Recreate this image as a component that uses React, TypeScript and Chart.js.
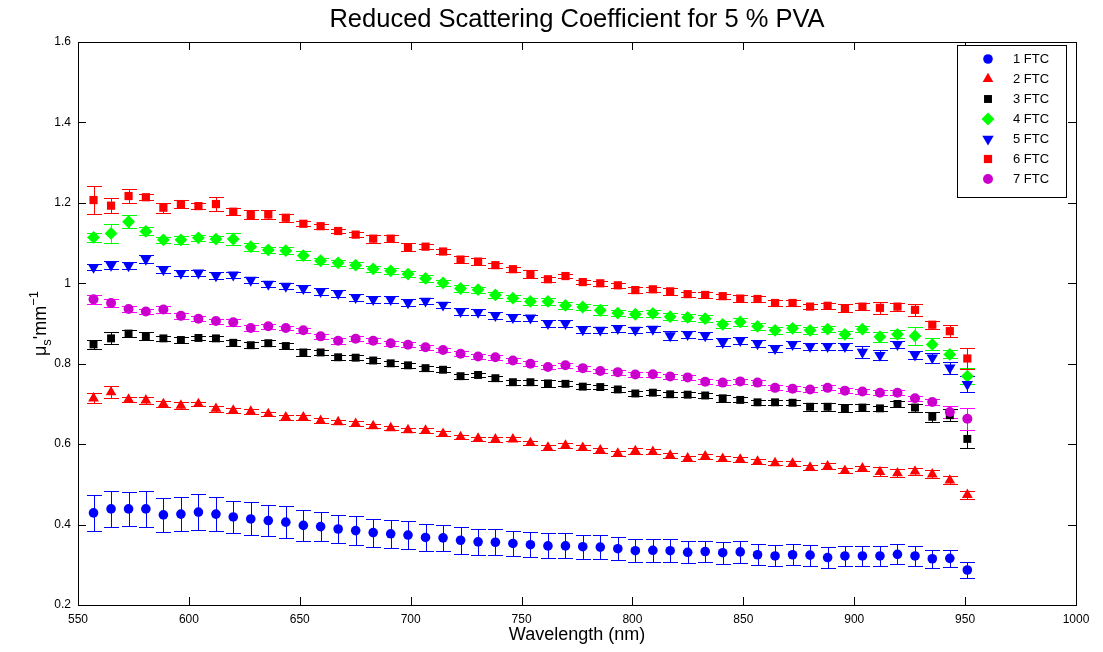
import React, { useEffect, useRef } from "react";
import { Chart, registerables } from "chart.js";
import { drawPoint } from "chart.js/helpers";

Chart.register(...registerables);

const title = "Reduced Scattering Coefficient for 5 % PVA";
const xLabel = "Wavelength (nm)";
const xTicks = [550, 600, 650, 700, 750, 800, 850, 900, 950, 1000];
const yTicks = [0.2, 0.4, 0.6, 0.8, 1, 1.2, 1.4, 1.6];

const wavelengths = [
  557.0, 564.9, 572.8, 580.6, 588.5, 596.4, 604.3, 612.2, 620.0, 627.9,
  635.8, 643.7, 651.6, 659.4, 667.3, 675.2, 683.1, 691.0, 698.8, 706.7,
  714.6, 722.5, 730.4, 738.2, 746.1, 754.0, 761.9, 769.8, 777.6, 785.5,
  793.4, 801.3, 809.2, 817.0, 824.9, 832.8, 840.7, 848.6, 856.4, 864.3,
  872.2, 880.1, 888.0, 895.8, 903.7, 911.6, 919.5, 927.4, 935.2, 943.1, 951.0,
];

const seriesLabels = ["1 FTC", "2 FTC", "3 FTC", "4 FTC", "5 FTC", "6 FTC", "7 FTC"];

const ftc1 = [
  0.429, 0.439, 0.439, 0.439, 0.424, 0.426, 0.431, 0.426, 0.419, 0.414,
  0.410, 0.406, 0.398, 0.395, 0.389, 0.385, 0.380, 0.377, 0.374, 0.368,
  0.367, 0.361, 0.357, 0.356, 0.353, 0.350, 0.347, 0.347, 0.345, 0.344,
  0.340, 0.335, 0.336, 0.335, 0.331, 0.333, 0.330, 0.332, 0.325, 0.322,
  0.325, 0.324, 0.318, 0.322, 0.322, 0.322, 0.326, 0.322, 0.315, 0.316, 0.287,
];
const err1 = [
  0.045, 0.044, 0.042, 0.044, 0.042, 0.043, 0.044, 0.043, 0.040, 0.041,
  0.038, 0.039, 0.038, 0.037, 0.036, 0.036, 0.035, 0.035, 0.034, 0.034,
  0.033, 0.033, 0.032, 0.032, 0.031, 0.031, 0.031, 0.031, 0.030, 0.029,
  0.029, 0.028, 0.028, 0.028, 0.027, 0.027, 0.027, 0.027, 0.026, 0.026,
  0.026, 0.026, 0.025, 0.025, 0.025, 0.025, 0.025, 0.024, 0.023, 0.022, 0.019,
];

const ftc2 = [
  0.714, 0.729, 0.711, 0.709, 0.700, 0.696, 0.700, 0.688, 0.684, 0.681,
  0.675, 0.667, 0.667, 0.658, 0.655, 0.651, 0.645, 0.640, 0.635, 0.634,
  0.626, 0.618, 0.614, 0.612, 0.612, 0.603, 0.592, 0.597, 0.591, 0.585,
  0.577, 0.583, 0.581, 0.572, 0.565, 0.570, 0.564, 0.562, 0.557, 0.553,
  0.552, 0.542, 0.545, 0.534, 0.540, 0.531, 0.528, 0.532, 0.525, 0.510, 0.474,
];
const err2 = [
  0.012, 0.015, 0.007, 0.008, 0.007, 0.008, 0.006, 0.007, 0.007, 0.006,
  0.006, 0.006, 0.006, 0.006, 0.006, 0.006, 0.006, 0.006, 0.005, 0.006,
  0.006, 0.005, 0.005, 0.006, 0.005, 0.006, 0.006, 0.006, 0.006, 0.006,
  0.006, 0.007, 0.006, 0.006, 0.006, 0.006, 0.006, 0.006, 0.006, 0.006,
  0.007, 0.006, 0.008, 0.007, 0.006, 0.011, 0.009, 0.008, 0.010, 0.010, 0.010,
];

const ftc3 = [
  0.848, 0.863, 0.875, 0.868, 0.863, 0.859, 0.864, 0.863, 0.852, 0.846,
  0.851, 0.844, 0.828, 0.828, 0.816, 0.815, 0.808, 0.801, 0.796, 0.789,
  0.785, 0.769, 0.772, 0.764, 0.754, 0.754, 0.751, 0.750, 0.743, 0.742,
  0.736, 0.726, 0.728, 0.724, 0.723, 0.721, 0.714, 0.710, 0.704, 0.704,
  0.703, 0.693, 0.693, 0.689, 0.691, 0.689, 0.700, 0.691, 0.668, 0.672, 0.613,
];
const err3 = [
  0.012, 0.015, 0.008, 0.010, 0.007, 0.007, 0.006, 0.007, 0.008, 0.007,
  0.008, 0.007, 0.008, 0.006, 0.006, 0.006, 0.006, 0.006, 0.006, 0.006,
  0.006, 0.006, 0.006, 0.006, 0.006, 0.006, 0.008, 0.006, 0.006, 0.006,
  0.006, 0.006, 0.006, 0.006, 0.006, 0.006, 0.008, 0.006, 0.006, 0.006,
  0.006, 0.010, 0.010, 0.010, 0.008, 0.006, 0.008, 0.010, 0.012, 0.015, 0.022,
];

const ftc4 = [
  1.114, 1.124, 1.153, 1.129, 1.108, 1.108, 1.113, 1.110, 1.110, 1.091,
  1.083, 1.081, 1.069, 1.056, 1.051, 1.045, 1.036, 1.031, 1.023, 1.012,
  1.001, 0.987, 0.984, 0.971, 0.963, 0.955, 0.955, 0.945, 0.941, 0.933,
  0.926, 0.923, 0.925, 0.917, 0.915, 0.912, 0.898, 0.904, 0.893, 0.883,
  0.888, 0.883, 0.886, 0.873, 0.886, 0.867, 0.873, 0.869, 0.848, 0.823, 0.769,
];
const err4 = [
  0.011, 0.024, 0.016, 0.010, 0.008, 0.010, 0.008, 0.008, 0.015, 0.010,
  0.008, 0.008, 0.012, 0.008, 0.008, 0.008, 0.008, 0.008, 0.008, 0.008,
  0.008, 0.008, 0.008, 0.008, 0.007, 0.008, 0.008, 0.008, 0.008, 0.012,
  0.008, 0.008, 0.008, 0.008, 0.008, 0.008, 0.008, 0.010, 0.008, 0.008,
  0.008, 0.008, 0.008, 0.008, 0.008, 0.012, 0.010, 0.023, 0.015, 0.010, 0.020,
];

const ftc5 = [
  1.040, 1.045, 1.044, 1.060, 1.034, 1.025, 1.026, 1.019, 1.021, 1.008,
  0.998, 0.993, 0.987, 0.980, 0.975, 0.965, 0.960, 0.960, 0.952, 0.956,
  0.946, 0.930, 0.928, 0.920, 0.915, 0.914, 0.900, 0.900, 0.885, 0.884,
  0.888, 0.884, 0.886, 0.870, 0.873, 0.870, 0.853, 0.858, 0.850, 0.838,
  0.848, 0.843, 0.843, 0.843, 0.829, 0.821, 0.848, 0.822, 0.815, 0.790, 0.749,
];
const err5 = [
  0.008, 0.010, 0.008, 0.010, 0.008, 0.008, 0.008, 0.008, 0.008, 0.008,
  0.008, 0.008, 0.008, 0.008, 0.008, 0.008, 0.008, 0.008, 0.008, 0.008,
  0.008, 0.008, 0.008, 0.008, 0.008, 0.008, 0.008, 0.008, 0.008, 0.008,
  0.008, 0.008, 0.008, 0.012, 0.008, 0.008, 0.010, 0.008, 0.008, 0.008,
  0.008, 0.008, 0.008, 0.008, 0.015, 0.012, 0.008, 0.010, 0.012, 0.015, 0.020,
];

const ftc6 = [
  1.207, 1.193, 1.217, 1.214, 1.188, 1.197, 1.192, 1.197, 1.178, 1.170,
  1.171, 1.163, 1.148, 1.142, 1.130, 1.121, 1.111, 1.111, 1.090, 1.091,
  1.079, 1.059, 1.054, 1.045, 1.035, 1.023, 1.010, 1.018, 1.003, 1.000,
  0.995, 0.983, 0.985, 0.980, 0.973, 0.971, 0.968, 0.962, 0.961, 0.951,
  0.951, 0.942, 0.944, 0.938, 0.942, 0.939, 0.942, 0.934, 0.897, 0.881, 0.813,
];
const err6 = [
  0.034, 0.019, 0.017, 0.008, 0.012, 0.011, 0.008, 0.017, 0.008, 0.011,
  0.012, 0.010, 0.006, 0.006, 0.006, 0.006, 0.010, 0.008, 0.010, 0.006,
  0.006, 0.008, 0.008, 0.006, 0.006, 0.010, 0.006, 0.006, 0.006, 0.006,
  0.006, 0.008, 0.006, 0.008, 0.006, 0.008, 0.006, 0.008, 0.008, 0.008,
  0.008, 0.006, 0.008, 0.010, 0.008, 0.015, 0.010, 0.015, 0.010, 0.015, 0.025,
];

const ftc7 = [
  0.960, 0.951, 0.936, 0.930, 0.935, 0.919, 0.912, 0.906, 0.903, 0.889,
  0.893, 0.889, 0.883, 0.868, 0.857, 0.862, 0.857, 0.851, 0.847, 0.841,
  0.834, 0.825, 0.818, 0.816, 0.808, 0.800, 0.792, 0.796, 0.789, 0.782,
  0.779, 0.773, 0.774, 0.768, 0.766, 0.755, 0.753, 0.756, 0.753, 0.740,
  0.738, 0.736, 0.740, 0.733, 0.731, 0.728, 0.728, 0.714, 0.705, 0.680, 0.663,
];
const err7 = [
  0.012, 0.010, 0.008, 0.006, 0.008, 0.008, 0.006, 0.006, 0.008, 0.008,
  0.006, 0.006, 0.006, 0.006, 0.008, 0.006, 0.006, 0.006, 0.006, 0.006,
  0.006, 0.006, 0.006, 0.006, 0.006, 0.006, 0.006, 0.006, 0.006, 0.006,
  0.006, 0.006, 0.006, 0.006, 0.006, 0.006, 0.006, 0.006, 0.006, 0.006,
  0.006, 0.006, 0.006, 0.006, 0.006, 0.006, 0.006, 0.006, 0.008, 0.015, 0.027,
];

const FONT = "'Liberation Sans', Arial, Helvetica, sans-serif";

export default function App() {
  const ref = useRef<HTMLCanvasElement>(null);

  useEffect(() => {
    if (!ref.current) return;
    const values = [ftc1, ftc2, ftc3, ftc4, ftc5, ftc6, ftc7];
    const errors = [err1, err2, err3, err4, err5, err6, err7];
    const styles = [
      { color: "#0000ff", errColor: "#0000ff", style: "circle", rot: 0, r: 4.8 },
      { color: "#ff0000", errColor: "#ff0000", style: "triangle", rot: 0, r: 6.2 },
      { color: "#000000", errColor: "#000000", style: "rect", rot: 0, r: 5.6 },
      { color: "#00ff00", errColor: "#00ff00", style: "rectRot", rot: 0, r: 6.4 },
      { color: "#0000ff", errColor: "#0000ff", style: "triangle", rot: 180, r: 6.6 },
      { color: "#ff0000", errColor: "#ff0000", style: "rect", rot: 0, r: 5.8 },
      { color: "#cc00cc", errColor: "#ff00ff", style: "circle", rot: 0, r: 5 },
    ];

    const datasets = values.map((v, i) => ({
      label: seriesLabels[i],
      data: wavelengths.map((w, j) => ({ x: w, y: v[j] })),
      errors: errors[i],
      errColor: styles[i].errColor,
      showLine: false,
      pointStyle: styles[i].style,
      pointRotation: styles[i].rot,
      pointRadius: styles[i].r,
      pointHoverRadius: styles[i].r,
      pointBorderWidth: 0,
      backgroundColor: styles[i].color,
      borderColor: styles[i].color,
      order: 7 - i,
    }));

    const errorBars = {
      id: "errorBars",
      beforeDatasetsDraw(chart: any) {
        const { ctx } = chart;
        const xs = chart.scales.x;
        const ys = chart.scales.y;
        const cap = 7.5;
        ctx.save();
        ctx.lineWidth = 1;
        chart.data.datasets.forEach((ds: any) => {
          ctx.strokeStyle = ds.errColor;
          ds.data.forEach((p: any, j: number) => {
            const px = Math.round(xs.getPixelForValue(p.x)) + 0.5;
            const top = Math.round(ys.getPixelForValue(p.y + ds.errors[j])) + 0.5;
            const bot = Math.round(ys.getPixelForValue(p.y - ds.errors[j])) + 0.5;
            ctx.beginPath();
            ctx.moveTo(px, top);
            ctx.lineTo(px, bot);
            ctx.moveTo(px - cap, top);
            ctx.lineTo(px + cap, top);
            ctx.moveTo(px - cap, bot);
            ctx.lineTo(px + cap, bot);
            ctx.stroke();
          });
        });
        ctx.restore();
      },
    };

    const decorations = {
      id: "decorations",
      afterDraw(chart: any) {
        const { ctx, chartArea: a } = chart;
        const xs = chart.scales.x;
        const ys = chart.scales.y;
        ctx.save();
        ctx.strokeStyle = "#000";
        ctx.lineWidth = 1;
        ctx.strokeRect(Math.round(a.left) + 0.5, Math.round(a.top) + 0.5, Math.round(a.right - a.left), Math.round(a.bottom - a.top));
        const tl = 8;
        ctx.beginPath();
        xTicks.forEach((t) => {
          const px = Math.round(xs.getPixelForValue(t)) + 0.5;
          ctx.moveTo(px, a.bottom);
          ctx.lineTo(px, a.bottom - tl);
          ctx.moveTo(px, a.top);
          ctx.lineTo(px, a.top + tl);
        });
        yTicks.forEach((t) => {
          const py = Math.round(ys.getPixelForValue(t)) + 0.5;
          ctx.moveTo(a.left, py);
          ctx.lineTo(a.left + tl, py);
          ctx.moveTo(a.right, py);
          ctx.lineTo(a.right - tl, py);
        });
        ctx.stroke();

        ctx.fillStyle = "#000";
        ctx.textAlign = "center";
        ctx.textBaseline = "middle";
        ctx.font = `25.5px ${FONT}`;
        ctx.fillText(title, (a.left + a.right) / 2, 20);

        ctx.font = `18px ${FONT}`;
        ctx.fillText(xLabel, (a.left + a.right) / 2, 635);

        ctx.save();
        ctx.translate(40, (a.top + a.bottom) / 2);
        ctx.rotate(-Math.PI / 2);
        ctx.textAlign = "left";
        ctx.textBaseline = "alphabetic";
        const big = `18px ${FONT}`;
        const small = `13px ${FONT}`;
        const parts = [
          { t: "\u03bc", f: big, dy: 0 },
          { t: "s", f: small, dy: 5 },
          { t: "'mm", f: big, dy: 0 },
          { t: "\u22121", f: small, dy: -8 },
        ];
        let total = 0;
        parts.forEach((p) => {
          ctx.font = p.f;
          total += ctx.measureText(p.t).width;
        });
        let cx = -total / 2;
        parts.forEach((p) => {
          ctx.font = p.f;
          ctx.fillText(p.t, cx, 6 + p.dy);
          cx += ctx.measureText(p.t).width;
        });
        ctx.restore();

        const lx = 957.5, ly = 45.5, lw = 109, lh = 152;
        ctx.fillStyle = "#fff";
        ctx.fillRect(lx, ly, lw, lh);
        ctx.strokeStyle = "#000";
        ctx.strokeRect(lx, ly, lw, lh);
        ctx.font = `13px ${FONT}`;
        ctx.textAlign = "left";
        ctx.textBaseline = "middle";
        chart.data.datasets.forEach((ds: any, i: number) => {
          const y = 59 + i * 20;
          ctx.fillStyle = ds.backgroundColor;
          ctx.strokeStyle = ds.backgroundColor;
          drawPoint(ctx, { pointStyle: ds.pointStyle, rotation: ds.pointRotation, radius: ds.pointRadius, borderWidth: 0 } as any, 988, y);
          ctx.fillStyle = "#000";
          ctx.fillText(ds.label, 1013, y);
        });
        ctx.restore();
      },
    };

    const chart = new Chart(ref.current, {
      type: "scatter",
      data: { datasets: datasets as any },
      options: {
        animation: false,
        responsive: false,
        events: [],
        layout: { padding: { top: 42, right: 27, left: 0, bottom: 0 } },
        plugins: { legend: { display: false }, title: { display: false }, tooltip: { enabled: false } },
        scales: {
          x: {
            type: "linear",
            min: 550,
            max: 1000,
            afterFit: (s: any) => { s.height = 47; },
            afterBuildTicks: (s: any) => { s.ticks = xTicks.map((v) => ({ value: v })); },
            ticks: {
              font: { family: FONT, size: 12 },
              color: "#000",
              padding: 7,
              maxRotation: 0,
              autoSkip: false,
              callback: (v: any) => String(Math.round(Number(v))),
            },
            grid: { display: false, drawTicks: false },
            border: { display: false },
          },
          y: {
            type: "linear",
            min: 0.2,
            max: 1.6,
            afterFit: (s: any) => { s.width = 78; },
            afterBuildTicks: (s: any) => { s.ticks = yTicks.map((v) => ({ value: v })); },
            ticks: {
              font: { family: FONT, size: 12 },
              color: "#000",
              padding: 7,
              autoSkip: false,
              callback: (v: any) => String(Math.round(Number(v) * 10) / 10),
            },
            grid: { display: false, drawTicks: false },
            border: { display: false },
          },
        },
      },
      plugins: [errorBars, decorations],
    });
    return () => chart.destroy();
  }, []);

  return (
    <div style={{ position: "fixed", left: 0, top: 0, width: 1103, height: 652, background: "#fff" }}>
      <canvas ref={ref} width={1103} height={652} style={{ display: "block", width: 1103, height: 652 }} />
    </div>
  );
}
